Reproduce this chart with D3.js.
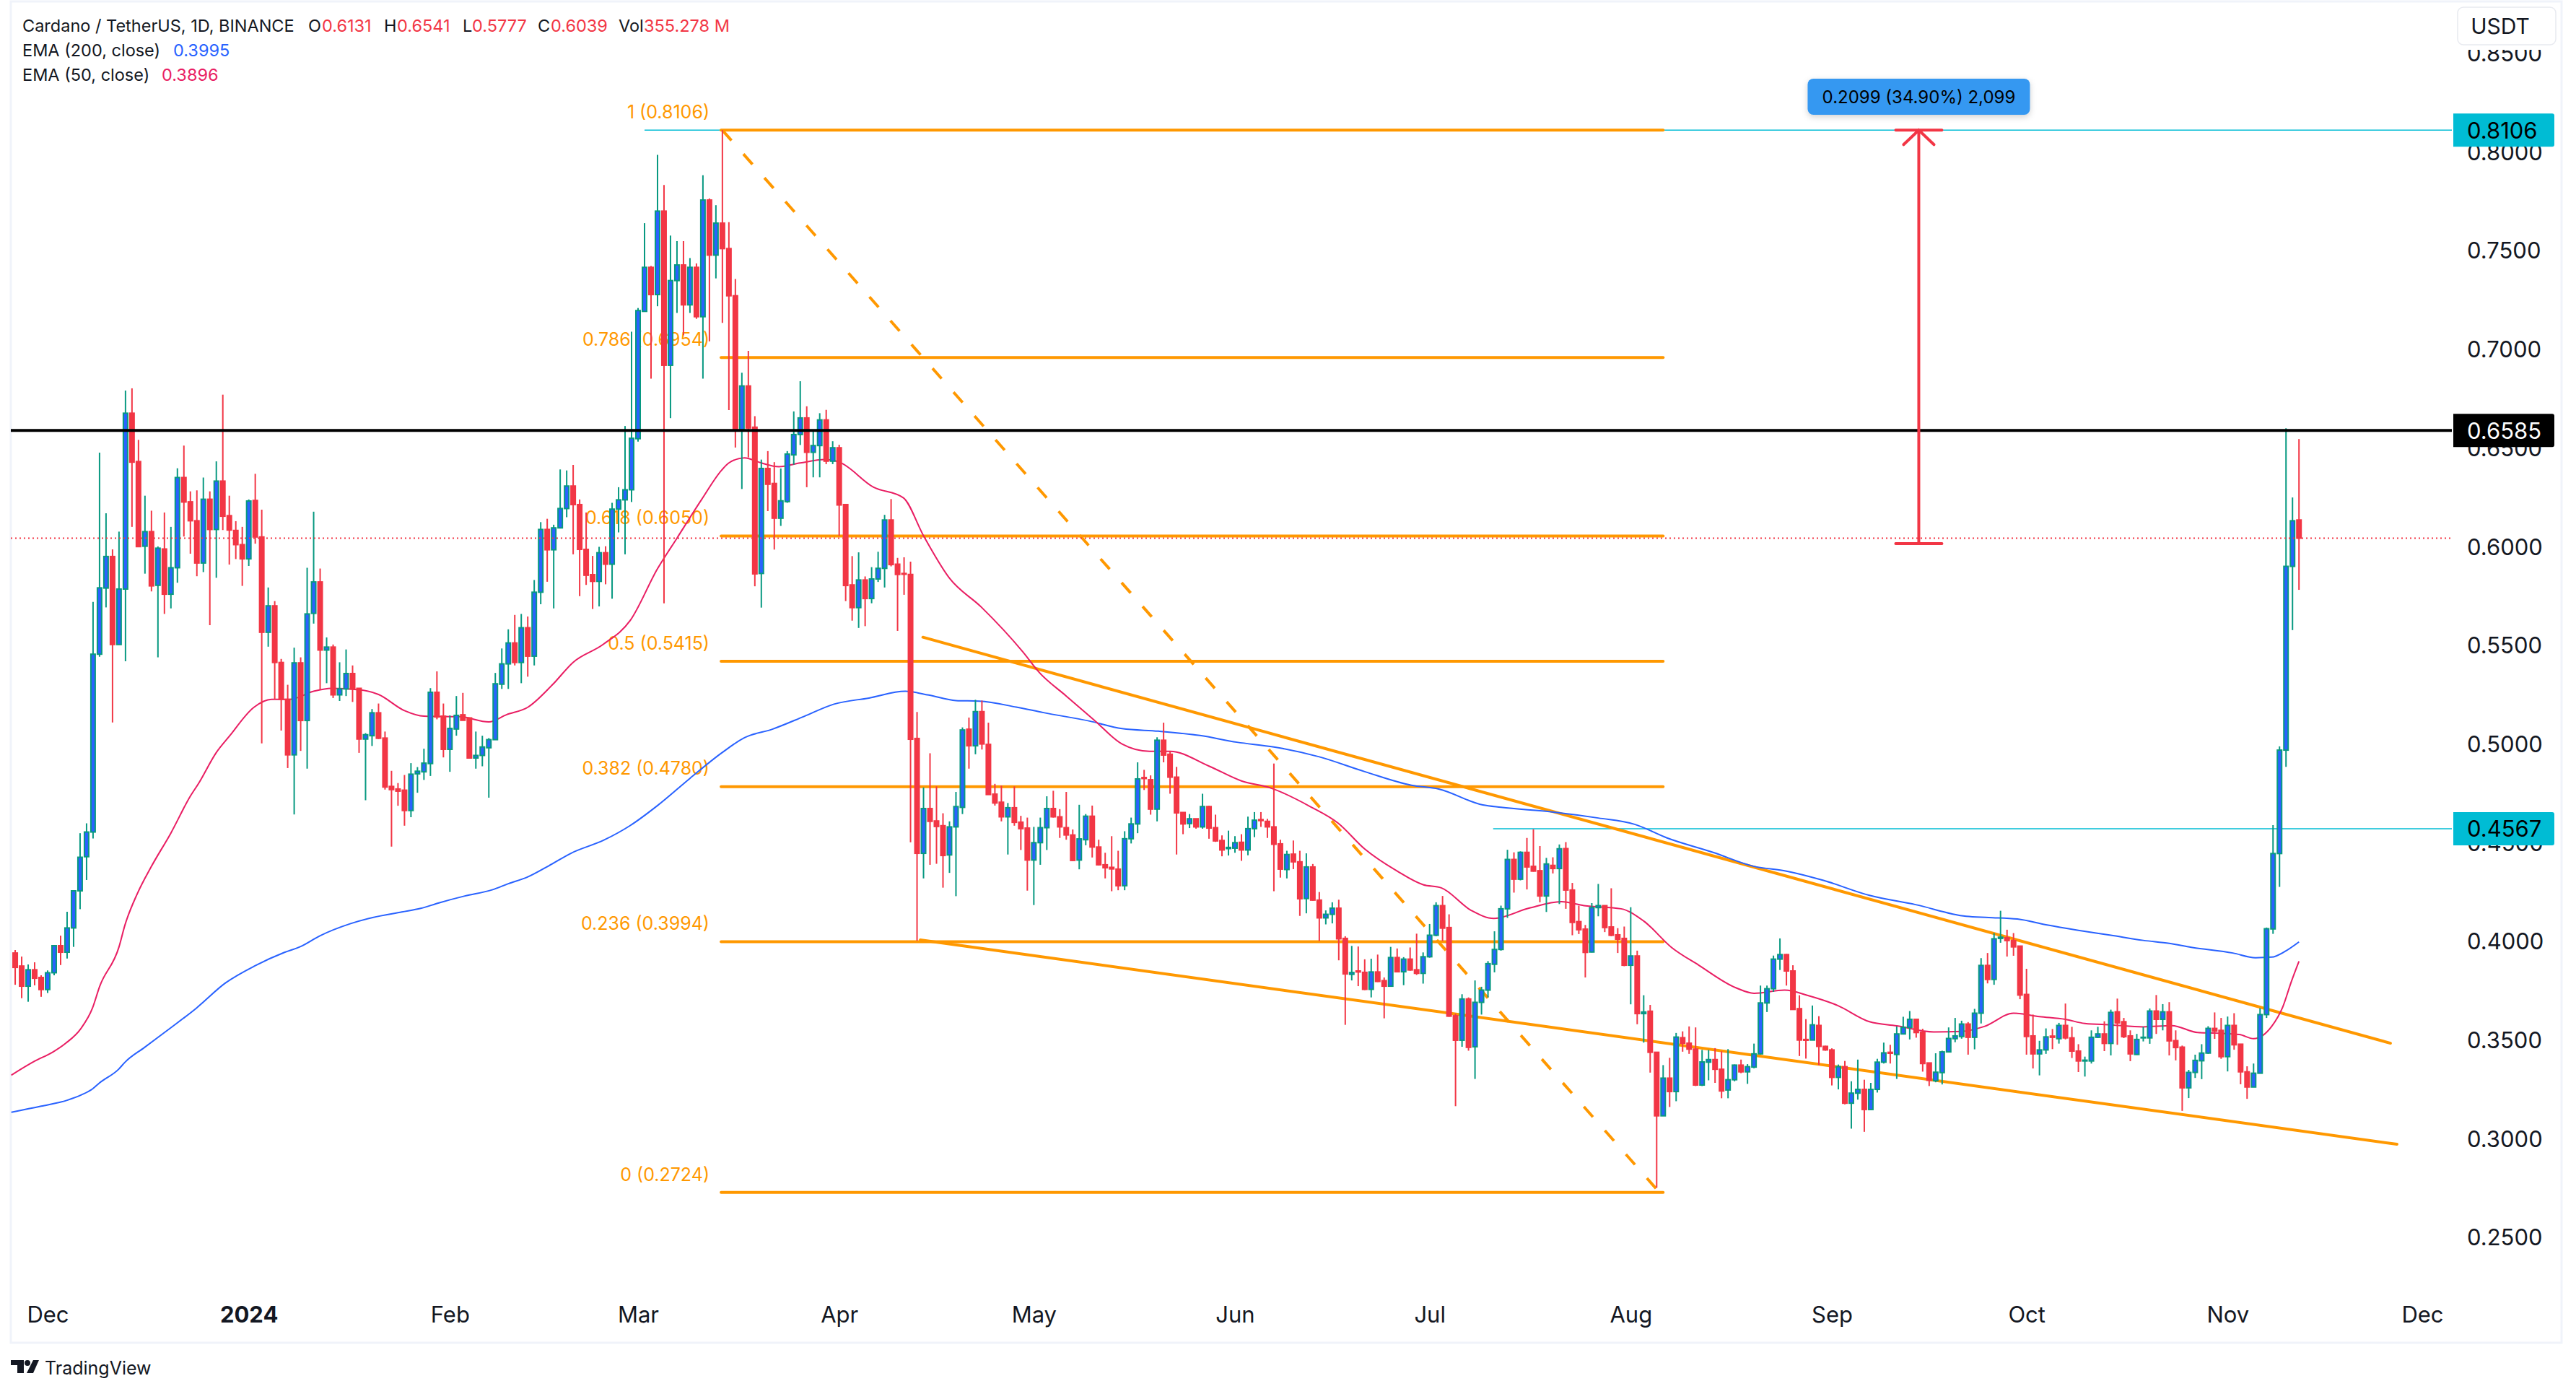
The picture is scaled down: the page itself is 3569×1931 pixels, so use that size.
<!DOCTYPE html>
<html>
<head>
<meta charset="utf-8">
<title>Cardano / TetherUS</title>
<script src="https://cdn.jsdelivr.net/npm/d3@7"></script>
<style>
  html, body { margin: 0; padding: 0; background: #fff; }
  svg { display: block; }
  text { font-family: Inter, Roboto, sans-serif; }
</style>
</head>
<body>
<div id="chart"></div>
<script>
// one candle per day, first one is 5 days before 1 Dec 2023
const firstDay = -5;

const opens = [
  .3937,.3871,.3769,.3852,.3813,.3752,.3837,.3974,.3941,.4064,
  .4252,.4425,.4550,.5451,.5786,.5946,.5500,.5781,.6672,.6427,
  .5998,.6072,.5800,.5984,.5755,.5889,.6346,.6223,.6127,.5913,
  .6236,.6083,.6328,.6153,.6078,.6006,.5934,.6230,.6045,.5562,
  .5696,.5409,.5222,.4941,.5407,.5115,.5658,.5817,.5472,.5487,
  .5245,.5275,.5353,.5278,.5021,.5038,.5154,.5026,.4781,.4768,
  .4762,.4659,.4845,.4855,.4897,.5258,.5137,.4969,.5072,.5144,
  .5128,.4925,.4938,.4977,.5018,.5299,.5402,.5508,.5409,.5585,
  .5441,.5765,.6083,.5980,.6091,.6189,.6303,.6209,.5982,.5854,
  .5820,.5965,.5907,.6186,.6233,.6284,.6543,.7188,.7411,.7273,
  .7696,.6915,.7344,.7423,.7221,.7411,.7161,.7752,.7473,.7635,
  .7506,.7267,.6588,.6810,.6601,.5860,.6392,.6316,.6140,.6224,
  .6461,.6564,.6648,.6474,.6508,.6638,.6429,.6497,.6209,.5802,
  .5687,.5827,.5733,.5832,.5886,.6131,.5907,.5860,.5855,.5024,
  .4442,.4669,.4606,.4582,.4434,.4576,.4675,.5071,.4987,.5160,
  .4994,.4742,.4701,.4627,.4673,.4600,.4570,.4408,.4496,.4572,
  .4669,.4627,.4572,.4535,.4408,.4511,.4630,.4474,.4384,.4371,
  .4362,.4278,.4516,.4591,.4826,.4815,.4666,.5015,.4944,.4828,
  .4649,.4593,.4617,.4576,.4679,.4572,.4507,.4466,.4468,.4498,
  .4459,.4567,.4613,.4604,.4576,.4490,.4360,.4438,.4399,.4213,
  .4373,.4205,.4115,.4133,.4164,.4011,.3829,.3846,.3839,.3753,
  .3841,.3797,.3769,.3914,.3842,.3906,.3852,.3834,.3918,.4027,
  .4177,.4066,.3619,.3495,.3704,.3462,.3687,.3749,.3880,.3955,
  .4161,.4411,.4311,.4447,.4376,.4354,.4226,.4381,.4365,.4466,
  .4256,.4096,.4058,.3942,.4167,.4177,.4069,.4029,.4011,.3875,
  .3922,.3630,.3642,.3434,.3112,.3303,.3235,.3508,.3480,.3450,
  .3268,.3384,.3397,.3348,.3243,.3295,.3369,.3335,.3359,.3426,
  .3684,.3756,.3906,.3929,.3846,.3655,.3499,.3496,.3570,.3464,
  .3446,.3307,.3361,.3176,.3227,.3246,.3144,.3246,.3384,.3434,
  .3423,.3527,.3560,.3601,.3535,.3380,.3290,.3331,.3436,.3503,
  .3514,.3577,.3510,.3632,.3874,.3803,.4011,.4014,.4000,.3972,
  .3727,.3517,.3426,.3446,.3516,.3503,.3570,.3507,.3440,.3390,
  .3390,.3510,.3527,.3479,.3639,.3589,.3517,.3423,.3507,.3507,
  .3643,.3601,.3639,.3493,.3460,.3254,.3332,.3391,.3430,.3555,
  .3545,.3412,.3570,.3475,.3335,.3258,.3328,.3625,.4059,.4441,
  .4965,.5896,.6131
];

const highs = [
  .3952,.3919,.3879,.3890,.3824,.3849,.3977,.4025,.4146,.4255,
  .4544,.4594,.5716,.6472,.6165,.5982,.6072,.6787,.6798,.6537,
  .6254,.6178,.5997,.6169,.6096,.6393,.6508,.6276,.6281,.6346,
  .6276,.6428,.6766,.6254,.6125,.6096,.6235,.6365,.6183,.5789,
  .5720,.5427,.5296,.5484,.5435,.5889,.6173,.5885,.5536,.5500,
  .5410,.5475,.5394,.5278,.5051,.5173,.5201,.5059,.4860,.4798,
  .4839,.4899,.4879,.4972,.5279,.5364,.5201,.5141,.5239,.5255,
  .5128,.5059,.5038,.5026,.5356,.5480,.5577,.5650,.5655,.5642,
  .5827,.6120,.6137,.6107,.6387,.6382,.6410,.6235,.6169,.5949,
  .5995,.5998,.6218,.6297,.6607,.7085,.7205,.7635,.7418,.7981,
  .7828,.7572,.7544,.7544,.7458,.7431,.7878,.7760,.7726,.8106,
  .7640,.7352,.6877,.6988,.6657,.6437,.6480,.6424,.6392,.6480,
  .6681,.6834,.6707,.6582,.6672,.6689,.6530,.6512,.6209,.5948,
  .5967,.5845,.5892,.5970,.6157,.6237,.5939,.5942,.5920,.5158,
  .4776,.4949,.4781,.4645,.4604,.4753,.5080,.5130,.5220,.5216,
  .5104,.4794,.4785,.4697,.4781,.4632,.4623,.4576,.4623,.4731,
  .4759,.4666,.4753,.4563,.4688,.4641,.4684,.4511,.4445,.4529,
  .4455,.4554,.4623,.4903,.4865,.4837,.5030,.5104,.4959,.4880,
  .4649,.4641,.4617,.4744,.4683,.4638,.4533,.4557,.4529,.4539,
  .4628,.4651,.4651,.4617,.4897,.4511,.4455,.4507,.4455,.4442,
  .4388,.4246,.4153,.4194,.4207,.4022,.3973,.3970,.3905,.3908,
  .3929,.3813,.3968,.3960,.3916,.3965,.4035,.3940,.4084,.4194,
  .4226,.4133,.3630,.3728,.3712,.3798,.3766,.3896,.4047,.4177,
  .4460,.4447,.4452,.4520,.4564,.4479,.4419,.4422,.4487,.4499,
  .4292,.4177,.4079,.4190,.4287,.4177,.4265,.4063,.4071,.4169,
  .3949,.3723,.3674,.3434,.3369,.3406,.3532,.3540,.3565,.3560,
  .3446,.3446,.3455,.3439,.3450,.3372,.3397,.3374,.3478,.3772,
  .3772,.3924,.4011,.3932,.3875,.3723,.3602,.3671,.3617,.3467,
  .3454,.3372,.3390,.3287,.3397,.3295,.3279,.3401,.3483,.3472,
  .3565,.3614,.3643,.3602,.3553,.3380,.3429,.3442,.3560,.3608,
  .3594,.3587,.3654,.3911,.3937,.4038,.4151,.4055,.4038,.3972,
  .3857,.3625,.3492,.3555,.3552,.3583,.3681,.3563,.3475,.3412,
  .3545,.3563,.3591,.3650,.3706,.3608,.3545,.3527,.3563,.3656,
  .3724,.3678,.3688,.3545,.3468,.3345,.3422,.3475,.3566,.3636,
  .3608,.3615,.3632,.3475,.3363,.3377,.3657,.4066,.4585,.4984,
  .6596,.6245,.6541
];

const lows = [
  .3776,.3708,.3690,.3773,.3715,.3734,.3824,.3876,.3909,.3968,
  .4159,.4307,.4517,.5438,.5688,.5105,.5500,.5415,.6096,.5993,
  .5859,.5769,.5435,.5655,.5683,.5813,.6047,.5960,.5846,.5867,
  .5598,.5838,.6080,.5905,.5933,.5797,.5898,.6011,.4999,.5489,
  .5222,.5064,.4874,.4639,.4961,.4871,.5606,.5271,.5304,.5229,
  .5214,.5239,.5209,.4951,.4711,.4986,.5021,.4765,.4476,.4683,
  .4582,.4625,.4749,.4814,.4834,.5121,.4928,.4855,.5038,.5116,
  .4925,.4871,.4883,.4724,.5018,.5275,.5275,.5394,.5304,.5337,
  .5394,.5704,.5818,.5683,.6088,.6145,.5957,.5745,.5802,.5680,
  .5693,.5805,.5732,.6068,.5957,.6222,.6528,.7188,.6847,.7214,
  .5709,.6647,.7180,.7067,.7180,.7150,.6847,.7036,.7355,.7130,
  .6688,.6498,.6288,.6448,.5795,.5687,.6176,.5981,.6101,.6218,
  .6411,.6511,.6297,.6347,.6347,.6414,.6414,.6051,.5720,.5621,
  .5584,.5593,.5709,.5817,.5789,.5896,.5569,.5752,.4498,.4000,
  .4315,.4384,.4389,.4268,.4343,.4225,.4641,.4871,.4944,.4968,
  .4740,.4684,.4604,.4436,.4582,.4459,.4253,.4180,.4384,.4459,
  .4623,.4520,.4511,.4403,.4361,.4483,.4421,.4380,.4315,.4250,
  .4255,.4255,.4492,.4544,.4763,.4638,.4604,.4903,.4744,.4436,
  .4539,.4570,.4567,.4567,.4516,.4500,.4427,.4431,.4445,.4404,
  .4432,.4524,.4576,.4520,.4250,.4319,.4315,.4362,.4125,.4138,
  .4202,.3998,.4082,.4087,.3900,.3573,.3798,.3769,.3749,.3712,
  .3790,.3606,.3766,.3841,.3774,.3847,.3826,.3782,.3913,.4022,
  .3998,.3614,.3161,.3462,.3442,.3299,.3625,.3712,.3839,.3949,
  .4115,.4243,.4305,.4259,.4349,.4194,.4145,.4340,.4185,.4161,
  .4027,.4033,.3813,.3940,.4123,.4043,.4022,.3937,.3870,.3677,
  .3576,.3483,.3331,.2748,.3112,.3157,.3186,.3437,.3426,.3263,
  .3263,.3292,.3279,.3201,.3201,.3287,.3328,.3274,.3353,.3423,
  .3638,.3740,.3851,.3772,.3651,.3415,.3402,.3495,.3369,.3442,
  .3266,.3246,.3170,.3047,.3194,.3031,.3144,.3230,.3377,.3377,
  .3299,.3524,.3499,.3508,.3336,.3263,.3282,.3271,.3434,.3485,
  .3503,.3422,.3449,.3580,.3783,.3776,.3989,.3919,.3923,.3703,
  .3422,.3352,.3317,.3426,.3450,.3478,.3499,.3405,.3334,.3311,
  .3377,.3506,.3440,.3418,.3472,.3506,.3389,.3421,.3489,.3477,
  .3527,.3545,.3418,.3393,.3137,.3202,.3304,.3298,.3426,.3502,
  .3401,.3337,.3447,.3272,.3198,.3258,.3328,.3608,.4034,.4272,
  .4880,.5573,.5777
];

const closes = [
  .3864,.3769,.3852,.3809,.3752,.3837,.3974,.3941,.4064,.4252,
  .4422,.4550,.5451,.5787,.5946,.5500,.5781,.6672,.6424,.5996,
  .6072,.5797,.5988,.5755,.5889,.6346,.6222,.6127,.5913,.6236,
  .6083,.6328,.6150,.6080,.6006,.5934,.6227,.6045,.5562,.5696,
  .5409,.5222,.4941,.5407,.5115,.5655,.5817,.5472,.5487,.5245,
  .5275,.5353,.5275,.5021,.5043,.5154,.5025,.4778,.4765,.4757,
  .4659,.4843,.4858,.4899,.5258,.5133,.4969,.5075,.5141,.5116,
  .4925,.4938,.4981,.5018,.5301,.5402,.5508,.5409,.5585,.5441,
  .5765,.6083,.5980,.6091,.6189,.6303,.6209,.5982,.5851,.5820,
  .5965,.5907,.6186,.6233,.6284,.6545,.7192,.7411,.7273,.7696,
  .6915,.7344,.7423,.7221,.7411,.7161,.7752,.7473,.7635,.7506,
  .7267,.6584,.6810,.6597,.5858,.6392,.6312,.6140,.6228,.6465,
  .6564,.6648,.6474,.6508,.6638,.6429,.6497,.6207,.5799,.5687,
  .5827,.5733,.5832,.5886,.6131,.5905,.5855,.5856,.5020,.4442,
  .4669,.4604,.4578,.4431,.4576,.4679,.5067,.4987,.5160,.4996,
  .4740,.4697,.4627,.4673,.4599,.4567,.4408,.4496,.4572,.4669,
  .4627,.4576,.4535,.4406,.4515,.4630,.4474,.4384,.4369,.4363,
  .4278,.4516,.4591,.4819,.4821,.4666,.5015,.4940,.4828,.4647,
  .4591,.4617,.4576,.4679,.4570,.4505,.4459,.4472,.4496,.4459,
  .4567,.4610,.4608,.4576,.4488,.4362,.4436,.4399,.4212,.4373,
  .4205,.4115,.4133,.4164,.4009,.3831,.3838,.3841,.3753,.3841,
  .3793,.3769,.3914,.3842,.3906,.3851,.3834,.3918,.4027,.4177,
  .4063,.3617,.3495,.3704,.3459,.3687,.3749,.3883,.3955,.4161,
  .4411,.4311,.4447,.4373,.4352,.4226,.4388,.4365,.4465,.4256,
  .4092,.4055,.3940,.4167,.4177,.4066,.4027,.4007,.3875,.3922,
  .3630,.3638,.3434,.3112,.3303,.3235,.3511,.3480,.3450,.3268,
  .3385,.3397,.3348,.3238,.3295,.3369,.3335,.3361,.3426,.3684,
  .3756,.3906,.3929,.3846,.3651,.3496,.3495,.3573,.3464,.3446,
  .3307,.3361,.3176,.3227,.3246,.3144,.3246,.3384,.3431,.3429,
  .3527,.3560,.3601,.3534,.3377,.3292,.3333,.3436,.3504,.3517,
  .3577,.3510,.3632,.3874,.3803,.4009,.4017,.4000,.3968,.3724,
  .3514,.3426,.3446,.3512,.3510,.3570,.3507,.3440,.3390,.3394,
  .3510,.3527,.3479,.3636,.3583,.3513,.3426,.3499,.3510,.3643,
  .3601,.3639,.3492,.3458,.3254,.3332,.3393,.3430,.3555,.3541,
  .3412,.3570,.3472,.3335,.3258,.3328,.3625,.4060,.4441,.4965,
  .5896,.6127,.6039
];

// EMA lines, read at these day numbers (days since 1 Dec 2023)
const emaFastDays = [-5.6,-2,.8,2.8,5.1,6.9,8,11,11.9,13.8,16,19,22,23.3,26,28,31.8,34.5,37.3,41,43.7,48,51,55,58,63.6,68,70.7,74,77.8,81,85.6,89.8,94,97,100.8,103.9,105,107.4,110,112.7,116,119.8,122,127.3,131.9,135,139,143.9,150.3,152.8,157,161.3,165.6,169.8,173,179,184,188.6,194.6,198.9,203,208,212,214.8,219.4,222.9,228.3,233.3,236.8,242.5,246,250.3,254.5,260.2,263,267.7,271.5,275.9,280.8,285,290.7,295,298.5,303,307,311,314,318,323,327.4,331.4,334.3,337.8,340,342.8,344.5,345.8,347];
const emaFast = [.3318,.3389,.3435,.3480,.3553,.3657,.3766,.3968,.4077,.4236,.4376,.4545,.4732,.4798,.4953,.5035,.5182,.5222,.5222,.5263,.5278,.5271,.5247,.5165,.5137,.5134,.5108,.5144,.5182,.5296,.5410,.5500,.5622,.5884,.6039,.6235,.6384,.6420,.6446,.6420,.6401,.6420,.6437,.6424,.6297,.6243,.6051,.5836,.5690,.5463,.5360,.5239,.5117,.4996,.4959,.4959,.4884,.4809,.4772,.4679,.4595,.4464,.4352,.4283,.4267,.4153,.4112,.4164,.4197,.4177,.4161,.4099,.3965,.3875,.3761,.3733,.3749,.3720,.3671,.3589,.3568,.3537,.3540,.3565,.3632,.3615,.3601,.3580,.3573,.3563,.3569,.3534,.3531,.3524,.3503,.3566,.3664,.3790,.3895];

const emaSlowDays = [-5.6,-1,3,5.2,6.9,8,11,11.9,14.9,18.9,22.9,27.4,32,36.5,39,41.9,46.7,50.1,54.6,57.5,60.3,64.3,68.5,71,73.9,77.3,80.7,85.8,89.8,94,99,103.9,107.4,111.7,116.6,121.2,126.6,132.2,135.8,140,143.6,149.3,153.5,160.6,165.6,171.2,177.6,183.3,189,196,203,210.2,214.4,221.2,224,231.9,239,244.6,249.6,256.7,263,268,273.7,280.8,287.9,295.7,299.2,303.6,308,313,318,323,327,330.4,336.8,340.3,342.8,344.8,347];
const emaSlow = [.3130,.3161,.3191,.3218,.3248,.3279,.3350,.3383,.3458,.3556,.3657,.3785,.3873,.3940,.3970,.4023,.4086,.4117,.4145,.4163,.4191,.4226,.4257,.4288,.4321,.4380,.4443,.4510,.4583,.4684,.4822,.4951,.5028,.5071,.5136,.5198,.5229,.5263,.5244,.5216,.5213,.5183,.5155,.5112,.5074,.5061,.5039,.5005,.4981,.4931,.4856,.4787,.4768,.4687,.4675,.4652,.4621,.4589,.4520,.4447,.4376,.4352,.4305,.4229,.4182,.4123,.4117,.4109,.4080,.4052,.4027,.4001,.3986,.3966,.3937,.3913,.3916,.3944,.3993];

// axis ticks
const monthDays = [0,31,62,91,122,152,183,213,244,275,305,336,366];
const monthLabels = ["Dec","2024","Feb","Mar","Apr","May","Jun","Jul","Aug","Sep","Oct","Nov","Dec"];
const priceTicks = [.25,.30,.35,.40,.45,.50,.55,.60,.65,.70,.75,.80,.85];

// drawings
const fibRatios = ["1","0.786","0.618","0.5","0.382","0.236","0"];
const fibPrices = [.8106,.6954,.6050,.5415,.4780,.3994,.2724];
const fibDays = [103.8,249];
const fibDiagDays = [104,248];
const fibDiagPrices = [.8106,.2740];
const upperTrendDays = [134.9,361.1];
const upperTrendPrices = [.5537,.3480];
const lowerTrendDays = [134.5,362.1];
const lowerTrendPrices = [.4003,.2968];
const resistance = .6585;
const lastClose = .6039;
const cyanLevels = [.8106,.4567];
const cyanStartDays = [92,222.8];
const measureDay = 288.4;
const measurePrices = [.8106,.6011];

const width = 3569, height = 1931;
const paneLeft = 15, paneRight = 3397, paneBottom = 1860;

const ORANGE = "#ff9800", RED = "#f23645", GREEN = "#089981", BLUE = "#2962ff", PINK = "#e91e63", CYAN = "#00bcd4", INK = "#131722";

const svg = d3.select("#chart").append("svg")
  .attr("width", width)
  .attr("height", height);

const x = d3.scaleLinear().domain([0, 366]).range([66, 3356]);
const y = d3.scaleLinear().domain([.25, .75]).range([1713, 346]);

// axes
const xAxis = svg.append("g")
  .attr("transform", "translate(0,1802)")
  .call(d3.axisBottom(x).tickValues(monthDays).tickSize(0).tickPadding(0).tickFormat((d, i) => monthLabels[i]));
xAxis.select(".domain").remove();
xAxis.selectAll("text")
  .attr("y", 0).attr("dy", "0.98em")
  .attr("fill", INK)
  .style("font-family", "Inter, Roboto, sans-serif")
  .style("font-size", "31px")
  .style("font-weight", (d, i) => monthLabels[i] === "2024" ? 700 : 400);

const yAxis = svg.append("g")
  .attr("transform", "translate(3418,2)")
  .call(d3.axisRight(y).tickValues(priceTicks).tickSize(0).tickPadding(0).tickFormat(d3.format(".4f")));
yAxis.select(".domain").remove();
yAxis.selectAll("text")
  .attr("fill", INK)
  .style("font-family", "Inter, Roboto, sans-serif")
  .style("font-size", "31px");

// pane border
svg.append("rect")
  .attr("x", paneLeft).attr("y", 2)
  .attr("width", 3549 - paneLeft).attr("height", paneBottom - 2)
  .attr("fill", "none").attr("stroke", "#f0f3fa").attr("stroke-width", 3);

// fib labels and levels sit behind the candles
svg.append("g").selectAll("text")
  .data(fibPrices)
  .join("text")
  .attr("x", 983)
  .attr("y", d => y(d) - 23)
  .attr("text-anchor", "end")
  .attr("dominant-baseline", "middle")
  .attr("font-size", 25)
  .attr("fill", ORANGE)
  .text((d, i) => `${fibRatios[i]} (${d3.format(".4f")(d)})`);

// thin cyan levels
svg.append("g").selectAll("line")
  .data(cyanLevels)
  .join("line")
  .attr("x1", (d, i) => x(cyanStartDays[i]))
  .attr("x2", paneRight)
  .attr("y1", d => y(d))
  .attr("y2", d => y(d))
  .attr("stroke", CYAN)
  .attr("stroke-width", 1.5);

svg.append("g").selectAll("line")
  .data(fibPrices)
  .join("line")
  .attr("x1", x(fibDays[0]))
  .attr("x2", x(fibDays[1]))
  .attr("y1", d => y(d))
  .attr("y2", d => y(d))
  .attr("stroke", ORANGE)
  .attr("stroke-width", 4)
  .attr("stroke-linecap", "round");

svg.append("line")
  .attr("x1", x(fibDiagDays[0])).attr("y1", y(fibDiagPrices[0]))
  .attr("x2", x(fibDiagDays[1])).attr("y2", y(fibDiagPrices[1]))
  .attr("stroke", ORANGE)
  .attr("stroke-width", 4)
  .attr("stroke-dasharray", "19 25");

// wedge lines
[[upperTrendDays, upperTrendPrices], [lowerTrendDays, lowerTrendPrices]].forEach(([days, prices]) => {
  svg.append("line")
    .attr("x1", x(days[0])).attr("y1", y(prices[0]))
    .attr("x2", x(days[1])).attr("y2", y(prices[1]))
    .attr("stroke", ORANGE)
    .attr("stroke-width", 4)
    .attr("stroke-linecap", "round");
});

// EMAs
const emaLine = d3.line()
  .x(d => x(d[0]))
  .y(d => y(d[1]))
  .curve(d3.curveMonotoneX);

svg.append("path")
  .attr("d", emaLine(d3.zip(emaSlowDays, emaSlow)))
  .attr("fill", "none").attr("stroke", BLUE).attr("stroke-width", 2);

svg.append("path")
  .attr("d", emaLine(d3.zip(emaFastDays, emaFast)))
  .attr("fill", "none").attr("stroke", PINK).attr("stroke-width", 2);

// candles
const candles = opens.map((o, i) => ({
  day: firstDay + i, o, h: highs[i], l: lows[i], c: closes[i], up: closes[i] >= o
}));

const candle = svg.append("g").selectAll("g")
  .data(candles)
  .join("g");

candle.append("line")
  .attr("x1", d => x(d.day))
  .attr("x2", d => x(d.day))
  .attr("y1", d => y(d.h))
  .attr("y2", d => y(d.l))
  .attr("stroke", d => d.up ? GREEN : RED)
  .attr("stroke-width", 2);

candle.append("rect")
  .attr("x", d => x(d.day) - 3)
  .attr("width", 6)
  .attr("y", d => y(Math.max(d.o, d.c)))
  .attr("height", d => Math.abs(y(d.o) - y(d.c)))
  .attr("fill", d => d.up ? BLUE : RED)
  .attr("stroke", d => d.up ? GREEN : RED)
  .attr("stroke-width", 2);

// last close dotted line
svg.append("line")
  .attr("x1", paneLeft).attr("x2", paneRight)
  .attr("y1", y(lastClose)).attr("y2", y(lastClose))
  .attr("stroke", RED)
  .attr("stroke-width", 2)
  .attr("stroke-dasharray", "2 4");

// resistance
svg.append("line")
  .attr("x1", paneLeft).attr("x2", paneRight)
  .attr("y1", y(resistance)).attr("y2", y(resistance))
  .attr("stroke", "#000")
  .attr("stroke-width", 4);

// price range measure
const mx = x(measureDay);
const measurePath = d3.path();
measurePath.moveTo(mx, y(measurePrices[0]));
measurePath.lineTo(mx, y(measurePrices[1]));
measurePath.moveTo(mx - 32, y(measurePrices[0]));
measurePath.lineTo(mx + 32, y(measurePrices[0]));
measurePath.moveTo(mx - 32, y(measurePrices[1]));
measurePath.lineTo(mx + 32, y(measurePrices[1]));
measurePath.moveTo(mx - 21, y(measurePrices[0]) + 20);
measurePath.lineTo(mx, y(measurePrices[0]));
measurePath.lineTo(mx + 21, y(measurePrices[0]) + 20);
svg.append("path")
  .attr("d", measurePath.toString())
  .attr("fill", "none")
  .attr("stroke", RED)
  .attr("stroke-width", 4)
  .attr("stroke-linecap", "round");

const defs = svg.append("defs");
defs.append("filter").attr("id", "box-shadow")
  .attr("x", "-5%").attr("y", "-30%").attr("width", "110%").attr("height", "170%")
  .append("feDropShadow")
  .attr("dx", 0).attr("dy", 3).attr("stdDeviation", 4)
  .attr("flood-color", "#000").attr("flood-opacity", .18);

svg.append("rect")
  .attr("x", mx - 154).attr("y", 109)
  .attr("width", 308).attr("height", 50)
  .attr("rx", 8)
  .attr("fill", "#3598f1")
  .attr("filter", "url(#box-shadow)");

svg.append("text")
  .attr("x", mx).attr("y", 134)
  .attr("text-anchor", "middle")
  .attr("dominant-baseline", "central")
  .attr("font-size", 24)
  .attr("fill", "#000")
  .text("0.2099 (34.90%) 2,099");

// price tags
const tags = [
  { price: cyanLevels[0], bg: CYAN, fg: "#000" },
  { price: resistance, bg: "#000", fg: "#fff" },
  { price: cyanLevels[1], bg: CYAN, fg: "#000" }
];
const tag = svg.append("g").selectAll("g")
  .data(tags)
  .join("g");
tag.append("path")
  .attr("d", d => {
    const t = y(d.price) - 23, b = y(d.price) + 23;
    return `M3399,${t}H3536a3,3 0 0 1 3,3V${b - 3}a3,3 0 0 1 -3,3H3399Z`;
  })
  .attr("fill", d => d.bg);
tag.append("text")
  .attr("x", 3418)
  .attr("y", d => y(d.price))
  .attr("dominant-baseline", "central")
  .attr("font-size", 31)
  .attr("fill", d => d.fg)
  .text(d => d3.format(".4f")(d.price));

// currency button, its white block hides the top of the 0.8500 tick
svg.append("rect")
  .attr("x", 3399).attr("y", 5)
  .attr("width", 148).attr("height", 64)
  .attr("fill", "#fff");
svg.append("rect")
  .attr("x", 3405).attr("y", 10)
  .attr("width", 136).attr("height", 52)
  .attr("rx", 8)
  .attr("fill", "#fff")
  .attr("stroke", "#e8eaf0")
  .attr("stroke-width", 1.5);
svg.append("text")
  .attr("x", 3464).attr("y", 36)
  .attr("text-anchor", "middle")
  .attr("dominant-baseline", "central")
  .attr("font-size", 30)
  .attr("fill", INK)
  .text("USDT");

// legend
const legend = svg.append("g").attr("font-size", 23.5);
const legendRows = [
  [[31, 35, "Cardano / TetherUS, 1D, BINANCE", INK], [427, 35, "O", INK], [446, 35, "0.6131", RED], [532, 35, "H", INK], [550, 35, "0.6541", RED], [641, 35, "L", INK], [654, 35, "0.5777", RED], [745, 35, "C", INK], [763, 35, "0.6039", RED], [857, 35, "Vol", INK], [892, 35, "355.278 M", RED]],
  [[31, 69, "EMA (200, close)", INK], [240, 69, "0.3995", BLUE]],
  [[31, 103, "EMA (50, close)", INK], [224, 103, "0.3896", PINK]]
];
legend.selectAll("text")
  .data(legendRows.flat())
  .join("text")
  .attr("x", d => d[0])
  .attr("y", d => d[1])
  .attr("dominant-baseline", "central")
  .attr("fill", d => d[3])
  .text(d => d[2]);

// footer logo
const logo = svg.append("g").attr("fill", INK);
logo.append("path").attr("d", "M15,1884H33V1902H24V1891H15Z");
logo.append("circle").attr("cx", 38).attr("cy", 1888).attr("r", 4);
logo.append("path").attr("d", "M46,1884H54L46,1902H37Z");
svg.append("text")
  .attr("x", 62).attr("y", 1895)
  .attr("dominant-baseline", "central")
  .attr("font-size", 25)
  .attr("fill", INK)
  .text("TradingView");
</script>
</body>
</html>
